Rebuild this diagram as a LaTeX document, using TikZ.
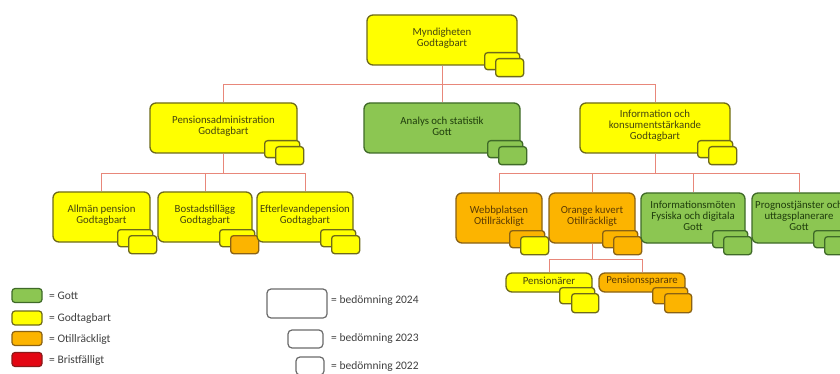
\documentclass[tikz,border=0pt]{standalone}
\usepackage{fontspec}
\setmainfont{Carlito}
\definecolor{yF}{HTML}{FFFF00}
\definecolor{yD}{HTML}{6E6A1A}
\definecolor{yT}{HTML}{45450F}
\definecolor{gF}{HTML}{8CC652}
\definecolor{gD}{HTML}{3F6A28}
\definecolor{gT}{HTML}{1F3D0C}
\definecolor{oF}{HTML}{FCB400}
\definecolor{oD}{HTML}{8A6214}
\definecolor{oT}{HTML}{5A3A04}
\definecolor{rF}{HTML}{E30613}
\definecolor{rD}{HTML}{8A1A1A}
\definecolor{lineC}{HTML}{E8877A}
\definecolor{legT}{HTML}{404040}
\definecolor{legD}{HTML}{6A6A6A}
\newcommand\mkbox[7]{%
  \node[bigbox, fill=#6F, draw=#6D, minimum width={(#4-#2)*1pt}, minimum height={(#5-#3)*1pt}] (#1) at ({(#2+#4)/2},{(#3+#5)/2}) {};
  \node[lbl, text=#6T] (#1-t) at ([yshift=2pt]#1.center) {#7};}
\newcommand\mkpair[3]{%
  \draw[smb, fill=#2F, draw=#2D] ([xshift=-33pt,yshift=13pt]#1.south east) rectangle ([xshift=2pt,yshift=-4pt]#1.south east);
  \draw[smb, fill=#3F, draw=#3D] ([xshift=-22pt,yshift=7pt]#1.south east) rectangle ([xshift=6pt,yshift=-11pt]#1.south east);}
\newcommand\mkspair[3]{%
  \draw[smb, fill=#2F, draw=#2D] ([xshift=-33pt,yshift=5pt]#1.south east) rectangle ([xshift=2pt,yshift=-11pt]#1.south east);
  \draw[smb, fill=#3F, draw=#3D] ([xshift=-21pt,yshift=-1pt]#1.south east) rectangle ([xshift=6pt,yshift=-20pt]#1.south east);}
\begin{document}
\begin{tikzpicture}[x=1pt,y=-1pt,
  conn/.style={draw=lineC, line width=0.9pt},
  bigbox/.style={rounded corners=6pt, line width=1.3pt, inner sep=0pt},
  smb/.style={rounded corners=3pt, line width=1.3pt},
  lbl/.style={align=center, font=\fontsize{10.8}{11}\selectfont, inner sep=0pt},
  sw/.style={rounded corners=3pt, line width=1.2pt, minimum width=30pt, minimum height=14pt, inner sep=0pt},
  legbox/.style={rounded corners=4pt, line width=1.2pt, draw=legD, fill=white, inner sep=0pt},
  legtxt/.style={anchor=west, text=legT, font=\fontsize{11.5}{12}\selectfont, inner sep=0pt}]
\useasboundingbox (0,0) rectangle (840,374);
\clip (0,0) rectangle (840,374);
\fill[white] (0,0) rectangle (840,374);
% level 0
\mkbox{myn}{367}{15}{517}{65}{y}{Myndigheten\\Godtagbart}
\mkpair{myn}{y}{y}
% level 1
\mkbox{pa}{150}{103}{297}{153}{y}{Pensionsadministration\\Godtagbart}
\mkpair{pa}{y}{y}
\mkbox{an}{364}{103}{520}{153}{g}{Analys och statistik\\Gott}
\mkpair{an}{g}{g}
\mkbox{inf}{580}{103}{730}{153}{y}{Information och\\konsumentstärkande\\Godtagbart}
\mkpair{inf}{y}{y}
% level 2
\mkbox{all}{53}{192}{150}{242}{y}{Allmän pension\\Godtagbart}
\mkpair{all}{y}{y}
\mkbox{bos}{158}{192}{252}{242}{y}{Bostadstillägg\\Godtagbart}
\mkpair{bos}{y}{o}
\mkbox{eft}{257}{192}{353}{242}{y}{Efterlevandepension\\Godtagbart}
\mkpair{eft}{y}{y}
\mkbox{web}{456}{193}{542}{243}{o}{Webbplatsen\\Otillräckligt}
\mkpair{web}{o}{y}
\mkbox{ork}{549}{193}{635}{243}{o}{Orange kuvert\\Otillräckligt}
\mkpair{ork}{o}{o}
\mkbox{ifm}{641}{193}{745}{243}{g}{Informationsmöten\\Fysiska och digitala\\Gott}
\mkpair{ifm}{g}{g}
\mkbox{pro}{752}{193}{846}{243}{g}{Prognostjänster och\\uttagsplanerare\\Gott}
\mkpair{pro}{g}{g}
% level 3
\mkbox{pen}{506}{273}{592}{292}{y}{Pensionärer}
\mkspair{pen}{y}{y}
\mkbox{sps}{599}{273}{685}{292}{o}{Pensionssparare}
\mkspair{sps}{o}{o}
% connectors
\draw[conn] (myn.south) -- ++(0,19) -| (pa.north);
\draw[conn] (myn.south) -- ++(0,19) -| (inf.north);
\draw[conn] (myn.south) -- (an.north);
\draw[conn] (pa.south) -- ++(0,20) -| (all.north);
\draw[conn] (pa.south) -- ++(0,20) -| (bos.north);
\draw[conn] (pa.south) -- ++(0,20) -| (eft.north);
\draw[conn] (inf.south) -- ++(0,20) -| (web.north);
\draw[conn] (inf.south) -- ++(0,20) -| (ork.north);
\draw[conn] (inf.south) -- ++(0,20) -| (ifm.north);
\draw[conn] (inf.south) -- ++(0,20) -| (pro.north);
\draw[conn] (ork.south) -- ++(0,16) -| (pen.north);
\draw[conn] (ork.south) -- ++(0,16) -| (sps.north);
% colour legend
\node[sw, fill=gF, draw=gD] (lg) at (27,295.5) {};
\node[legtxt] (lg-t) at (49,296) {= Gott};
\node[sw, fill=yF, draw=yD] (ly) at (27,318) {};
\node[legtxt] (ly-t) at (49,318) {= Godtagbart};
\node[sw, fill=oF, draw=oD] (lo) at (27,338.5) {};
\node[legtxt] (lo-t) at (49,339) {= Otillräckligt};
\node[sw, fill=rF, draw=rD] (lr) at (27,359.5) {};
\node[legtxt] (lr-t) at (49,360) {= Bristfälligt};
% year legend
\node[legbox, minimum width=60pt, minimum height=29pt] (b24) at (297,303.5) {};
\node[legtxt] (b24-t) at (331,300) {= bedömning 2024};
\node[legbox, minimum width=35pt, minimum height=18pt] (b23) at (305.5,339) {};
\node[legtxt] (b23-t) at (331,338) {= bedömning 2023};
\node[legbox, minimum width=28pt, minimum height=18pt] (b22) at (310,366) {};
\node[legtxt] (b22-t) at (331,366) {= bedömning 2022};
\end{tikzpicture}
\end{document}
